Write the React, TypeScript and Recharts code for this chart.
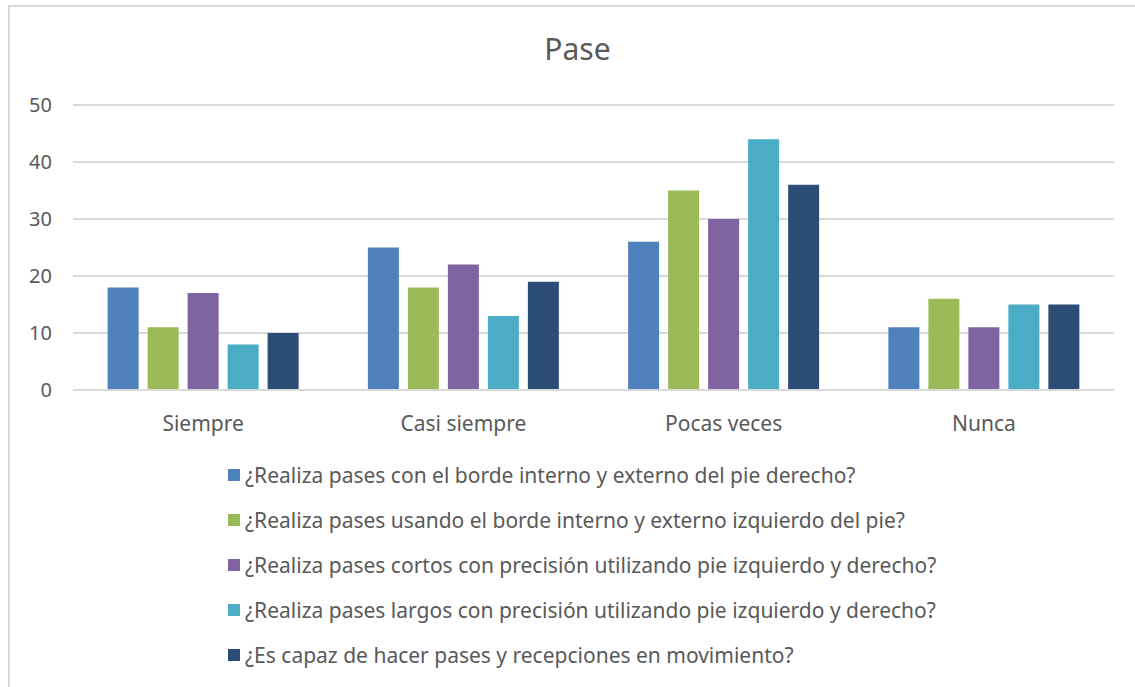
import React from 'react';
import { BarChart, Bar, XAxis, YAxis, CartesianGrid } from 'recharts';

const categories = ['Siempre', 'Casi siempre', 'Pocas veces', 'Nunca'];

const bordeDerecho = [18, 25, 26, 11];
const bordeIzquierdo = [11, 18, 35, 16];
const cortos = [17, 22, 30, 11];
const largos = [8, 13, 44, 15];
const movimiento = [10, 19, 36, 15];

const yTicks = [0, 10, 20, 30, 40, 50];

const series = [
  { key: 'a', name: '¿Realiza pases con el borde interno y externo del pie derecho?', values: bordeDerecho, color: '#4f81bd' },
  { key: 'b', name: '¿Realiza pases usando el borde interno y externo izquierdo del pie?', values: bordeIzquierdo, color: '#9bbb59' },
  { key: 'c', name: '¿Realiza pases cortos con precisión utilizando pie izquierdo y derecho?', values: cortos, color: '#8064a2' },
  { key: 'd', name: '¿Realiza pases largos con precisión utilizando pie izquierdo y derecho?', values: largos, color: '#4bacc6' },
  { key: 'e', name: '¿Es capaz de hacer pases y recepciones en movimiento?', values: movimiento, color: '#2c4d75' },
];

const data = categories.map((name, i) => {
  const row: Record<string, string | number> = { name };
  series.forEach((s) => {
    row[s.key] = s.values[i];
  });
  return row;
});

const FONT = '"Noto Sans", sans-serif';
const TEXT = '#595959';

export default function App() {
  return (
    <div style={{ position: 'absolute', left: 0, top: 0, width: 1135, height: 687, background: '#fff', overflow: 'hidden', fontFamily: FONT }}>
      {/* outer frame */}
      <div style={{ position: 'absolute', left: 8, top: 5, width: 1140, height: 700, border: '2px solid #d9d9d9', boxSizing: 'border-box' }} />
      <div style={{ position: 'absolute', left: 0, width: 1155, top: 28, textAlign: 'center', fontSize: 30, color: TEXT }}>Pase</div>
      <BarChart
        width={1135}
        height={687}
        data={data}
        margin={{ top: 105, right: 21, bottom: 267, left: 0 }}
        barCategoryGap="13.3%"
        barGap={9}
      >
        <CartesianGrid vertical={false} stroke="#d9d9d9" strokeWidth={2} />
        <XAxis
          dataKey="name"
          height={30}
          axisLine={{ stroke: '#d9d9d9', strokeWidth: 2 }}
          tickLine={false}
          tickMargin={20}
          tick={{ fill: TEXT, fontSize: 21, fontFamily: FONT }}
        />
        <YAxis
          width={73}
          domain={[0, 50]}
          ticks={yTicks}
          axisLine={false}
          tickLine={false}
          tickMargin={15}
          tick={{ fill: TEXT, fontSize: 20, fontFamily: FONT }}
        />
        {series.map((s) => (
          <Bar key={s.key} dataKey={s.key} name={s.name} fill={s.color} isAnimationActive={false} />
        ))}
      </BarChart>
      <div style={{ position: 'absolute', left: 228, top: 452 }}>
        {series.map((s) => (
          <div key={s.key} style={{ display: 'flex', alignItems: 'center', height: 45 }}>
            <span style={{ width: 12, height: 12, background: s.color, marginRight: 5, display: 'inline-block' }} />
            <span style={{ fontSize: 21, color: TEXT, whiteSpace: 'nowrap' }}>{s.name}</span>
          </div>
        ))}
      </div>
    </div>
  );
}
